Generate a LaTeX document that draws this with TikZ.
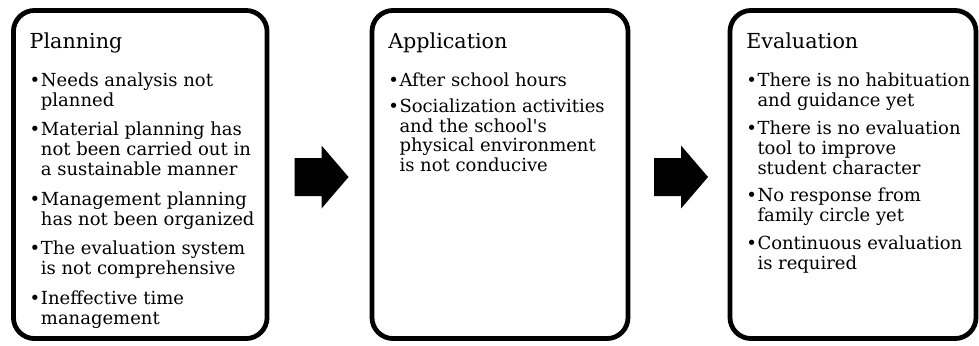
\documentclass[tikz,border=0pt]{standalone}
\usepackage{fontspec}
\setmainfont{DejaVu Serif}
\usetikzlibrary{calc}
\newcommand{\bul}{\makebox[8pt][l]{\textbullet}}

\begin{document}
\begin{tikzpicture}[x=0.025cm,y=-0.025cm,
        stage/.style={draw,line width=3.4pt,rounded corners=15pt,outer sep=0pt,inner sep=0pt,minimum height=8.2cm},
        head/.style={anchor=base west,inner sep=0pt,font=\fontsize{14.7}{16}\selectfont},
        items/.style={anchor=base west,inner sep=0pt,font=\fontsize{12.8}{14.2}\selectfont}]
        \useasboundingbox (0,0) rectangle (979,345);
        % the three stages
        \node[stage,minimum width=6.34cm] (plan) at (140.25,174.5){};
        \node[stage,minimum width=6.4cm] (app) at (500,174.5){};
        \node[stage,minimum width=6.15cm] (eval) at (853,174.5){};
        \node[head] (plant) at ($(plan.north west)+(16,38)$){Planning};
        \node[head] (appt) at ($(app.north west)+(16,38)$){Application};
        \node[head] (evalt) at ($(eval.north west)+(16,38)$){Evaluation};
        \node[items] (planl) at ($(plan.north west)+(16,76)$){\begin{tabular}[t]{@{}l@{}l@{}}
            \bul & Needs analysis not\\
                 & planned\\[6.8pt]
            \bul & Material planning has\\
                 & not been carried out in\\
                 & a sustainable manner\\[6.8pt]
            \bul & Management planning\\
                 & has not been organized\\[6.8pt]
            \bul & The evaluation system\\
                 & is not comprehensive\\[6.8pt]
            \bul & Ineffective time\\
                 & management
        \end{tabular}};
        \node[items] (appl) at ($(app.north west)+(16,76)$){\begin{tabular}[t]{@{}l@{}l@{}}
            \bul & After school hours\\[4pt]
            \bul & Socialization activities\\
                 & and the school\textquotesingle s\\
                 & physical environment\\
                 & is not conducive
        \end{tabular}};
        \node[items] (evall) at ($(eval.north west)+(16,76)$){\begin{tabular}[t]{@{}l@{}l@{}}
            \bul & There is no habituation\\
                 & and guidance yet\\[5.5pt]
            \bul & There is no evaluation\\
                 & tool to improve\\
                 & student character\\[5.5pt]
            \bul & No response from\\
                 & family circle yet\\[5.5pt]
            \bul & Continuous evaluation\\
                 & is required
        \end{tabular}};
        % block arrows between the stages
        \coordinate (a1) at ($(plan.east)!.5!(app.west)+(2,2.5)$);
        \coordinate (a2) at ($(app.east)!.5!(eval.west)+(2,2.5)$);
        \foreach \a in {a1,a2}
        {
            \fill (\a) ++(-27,-19) -- ++(27,0) -- ++(0,-12.5) -- ++(27,31.5)
                -- ++(-27,31.5) -- ++(0,-12.5) -- ++(-27,0) -- cycle;
        }
    \end{tikzpicture}
\end{document}
